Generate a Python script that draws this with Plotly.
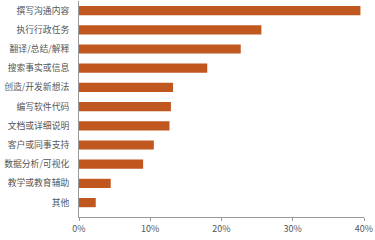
import plotly.graph_objects as go

categories = ["撰写沟通内容", "执行行政任务", "翻译/总结/解释", "搜索事实或信息",
              "创造/开发新想法", "编写软件代码", "文档或详细说明", "客户或同事支持",
              "数据分析/可视化", "教学或教育辅助", "其他"]
values = [39.5, 25.6, 22.7, 18.0, 13.2, 12.9, 12.7, 10.5, 9.0, 4.45, 2.35]
tick_vals = [0, 10, 20, 30, 40]
tick_text = ["0%", "10%", "20%", "30%", "40%"]

cats_rev = categories[::-1]
vals_rev = values[::-1]

fig = go.Figure(go.Bar(
    y=cats_rev, x=vals_rev, orientation="h",
    marker=dict(color="#C0571F", line=dict(width=0)),
    width=0.48,
))
fig.update_layout(
    width=375, height=240,
    margin=dict(l=79, r=11, t=1, b=23),
    paper_bgcolor="white", plot_bgcolor="white",
    showlegend=False,
    font=dict(family="Noto Sans CJK SC", size=9, color="#555555"),
)
fig.update_xaxes(
    range=[0, 40], tickvals=tick_vals, ticktext=tick_text,
    showgrid=False, zeroline=False,
    showline=True, linecolor="#999999", linewidth=1,
    ticks="outside", ticklen=3, tickcolor="#999999",
    tickfont=dict(size=9, color="#555555"),
)
fig.update_yaxes(
    range=[-0.75, 10.5],
    showgrid=False, zeroline=False,
    showline=True, linecolor="#999999", linewidth=1,
    ticks="", ticklabelstandoff=7,
    tickfont=dict(size=8.8, color="#555555"),
)
fig.write_html("out.html")
